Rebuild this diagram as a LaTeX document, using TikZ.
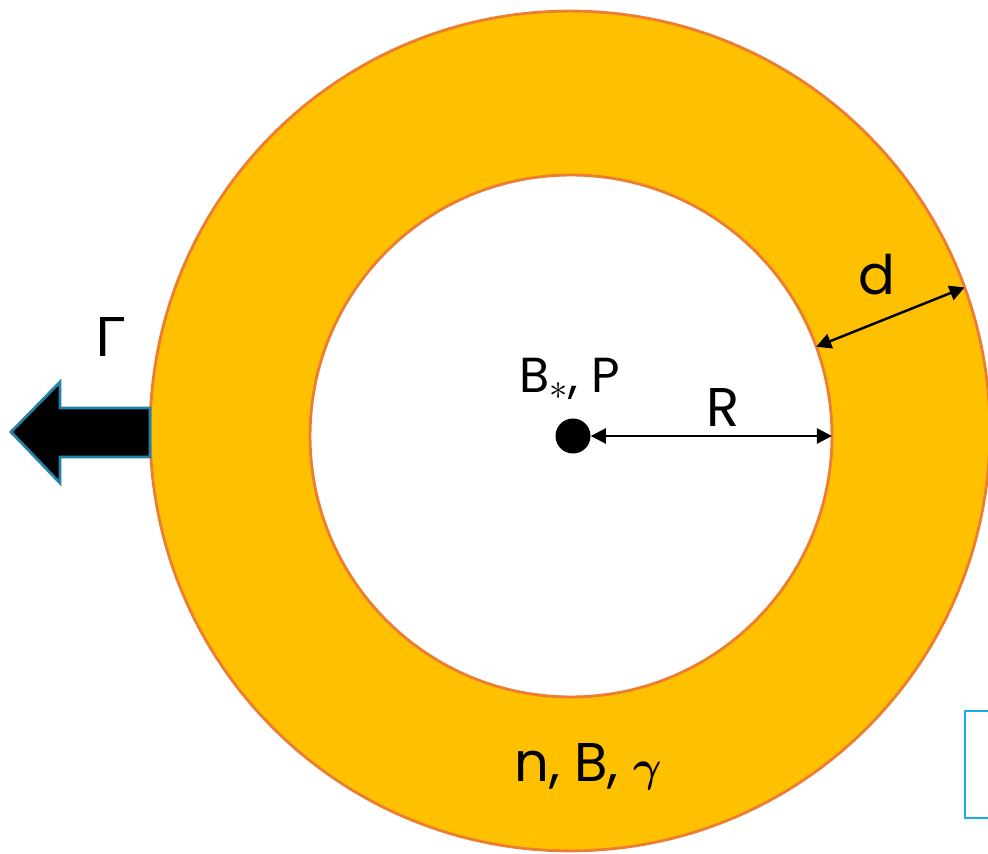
\documentclass[tikz,border=0pt]{standalone}
\usepackage{bm}
\usepackage{fontspec}
\setmainfont{Poppins}
\newfontfamily\greekfont{Lato}
\usetikzlibrary{arrows.meta,positioning}
\definecolor{ringyellow}{HTML}{FFC000}
\definecolor{ringorange}{HTML}{ED7D31}
\definecolor{fluxblue}{HTML}{2183A8}
\definecolor{boxblue}{HTML}{1CADE4}
\tikzset{ring/.style={circle,draw=ringorange,line width=1.6pt,inner sep=0pt,outer sep=0pt},
  dot/.style={circle,fill=black,inner sep=0pt,minimum size=0.7cm},
  dim/.style={{Triangle[length=0.3cm,width=0.3cm]}-{Triangle[length=0.3cm,width=0.3cm]},line width=1.4pt},
  lbl/.style={anchor=base,font=\fontsize{31}{37}\selectfont},
  flux/.style={fill=black,draw=fluxblue,line width=1.6pt,line join=miter}}

\begin{document}
\begin{tikzpicture}[x=0.02cm,y=-0.02cm]
\useasboundingbox (0,0) rectangle (988,854);
\clip (0,0) rectangle (988,854);
% ring
\node[ring,fill=ringyellow,minimum size=16.8cm] (outer) at (570,431) {};
\node[ring,fill=white,minimum size=10.44cm] (inner) at (571,436) {};
\node[dot] (star) at (573,436) {};
% dimensions
\draw[dim] (star) -- (inner.east);
\draw[dim] (inner.20) -- (outer.20);
% outflow
\draw[flux] (150,408) -- (60,408) -- (60,382) -- (11,432) -- (60,483) -- (60,457) -- (150,457) -- cycle;
% labels
\node[lbl,font=\fontsize{28}{34}\selectfont] (core) at (570,393) {B$_*$, P};
\node[lbl] (rlab) at (723,427) {R};
\node[lbl] (dlab) at (877,295) {d};
\node[lbl] (shell) at (588,782) {n, B, $\bm{\gamma}$};
\node[lbl] (gam) at (110,357) {\greekfont Γ};
% box
\draw[boxblue,line width=1.2pt] (965,711) rectangle (1000,818);
\end{tikzpicture}
\end{document}
